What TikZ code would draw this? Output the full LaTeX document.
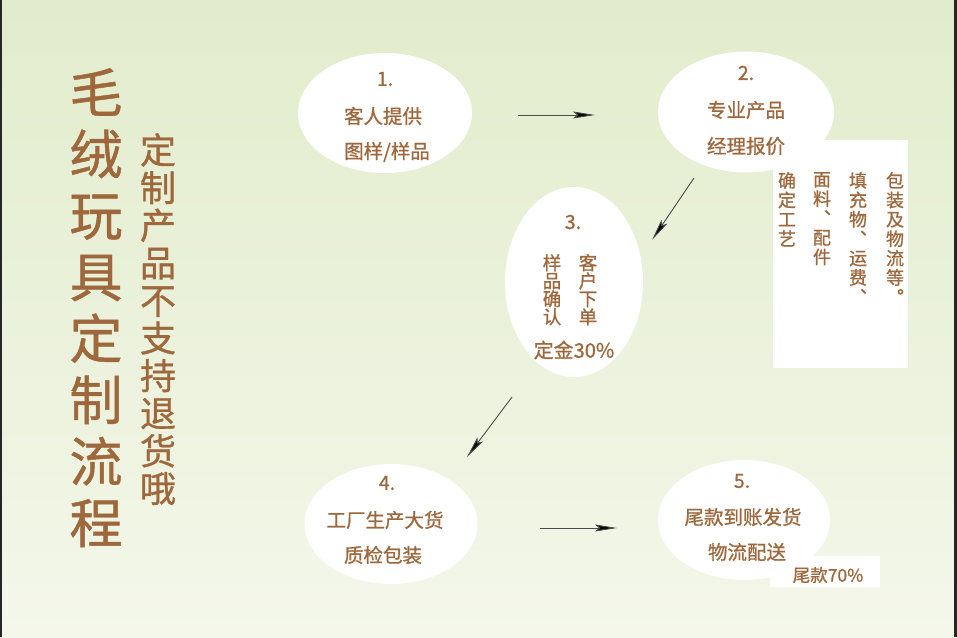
\documentclass[tikz,border=0pt]{standalone}
\usepackage{fontspec}
\newfontfamily\cjk{Noto Sans CJK SC}[FakeBold=0.9]
\usepackage{xcolor}
\usetikzlibrary{shapes.geometric, arrows.meta, positioning}

\definecolor{toybrown}{RGB}{158,104,60}
\definecolor{bgtop}{RGB}{226,236,204}
\definecolor{bgbottom}{RGB}{244,247,234}

\tikzset{
  stepoval/.style={ellipse, fill=white, draw=none, inner sep=0pt},
  steptext/.style={text=toybrown, inner sep=0pt, font=\cjk\fontsize{19.5}{19.5}\selectfont},
  columntext/.style={text=toybrown, inner sep=0pt, align=center, anchor=north,
    font=\cjk\fontsize{18}{19.4}\selectfont},
  flow/.style={draw=black!70, line width=0.9pt, -{Stealth[length=22pt, width=7pt, inset=4pt, fill=black]}}
}

\begin{document}
\begin{tikzpicture}[x=1pt, y=-1pt]
  % Background and frame
  \useasboundingbox (0,0) rectangle (957,637);
  \shade[top color=bgtop, bottom color=bgbottom] (0,0) rectangle (957,637);
  \fill[black!85] (0,0) rectangle (2,637);
  \fill[black!85] (954,0) rectangle (957,637);

  % Title
  \node[text=toybrown, inner sep=0pt, align=center, anchor=north,
    font=\cjk\fontsize{53}{61.5}\selectfont] (title) at (96,68)
    {毛\\绒\\玩\\具\\定\\制\\流\\程};
  \node[text=toybrown, inner sep=0pt, align=center, anchor=north,
    font=\cjk\fontsize{36}{37.6}\selectfont] (notice) at (158,133)
    {定\\制\\产\\品\\不\\支\\持\\退\\货\\哦};

  % Steps
  \node[stepoval, minimum width=174pt, minimum height=120pt] (s1) at (385,113) {};
  \node[stepoval, minimum width=176pt, minimum height=121pt] (s2) at (746,112) {};
  \node[stepoval, minimum width=138pt, minimum height=190pt] (s3) at (574,282) {};
  \node[stepoval, minimum width=173pt, minimum height=120pt] (s4) at (391,524) {};
  \node[stepoval, minimum width=172pt, minimum height=120pt] (s5) at (744,520) {};

  % Side notes
  \node[fill=white, inner sep=0pt, minimum width=135pt, minimum height=228pt,
    anchor=north west] (note2) at (773,140) {};
  \node[fill=white, inner sep=0pt, minimum width=110pt, minimum height=31pt,
    anchor=north west] (note5) at (770,556) {};

  % Step 1
  \node[steptext] (n1) at (385,79) {1.};
  \node[steptext] (t1a) at (383,116) {客人提供};
  \node[steptext] (t1b) at (387,152) {图样/样品};

  % Step 2
  \node[steptext] (n2) at (746,73) {2.};
  \node[steptext] (t2a) at (746,110) {专业产品};
  \node[steptext] (t2b) at (746,146) {经理报价};
  \node[columntext] (c2a) at (895,172) {包\\装\\及\\物\\流\\等\\︒};
  \node[columntext] (c2b) at (858,172) {填\\充\\物\\︑\\运\\费\\︑};
  \node[columntext] (c2c) at (822,172) {面\\料\\︑\\配\\件};
  \node[columntext] (c2d) at (787,172) {确\\定\\工\\艺};

  % Step 3
  \node[steptext] (n3) at (573,222) {3.};
  \node[columntext, font=\cjk\fontsize{18.5}{18}\selectfont] (c3a) at (552,254) {样\\品\\确\\认};
  \node[columntext, font=\cjk\fontsize{18.5}{18}\selectfont] (c3b) at (588,254) {客\\户\\下\\单};
  \node[steptext, font=\cjk\fontsize{20}{20}\selectfont] (t3) at (574,350) {定金30\%};

  % Step 4
  \node[steptext] (n4) at (387,483) {4.};
  \node[steptext] (t4a) at (385,520) {工厂生产大货};
  \node[steptext] (t4b) at (383,555) {质检包装};

  % Step 5
  \node[steptext] (n5) at (742,481) {5.};
  \node[steptext] (t5a) at (743,517) {尾款到账发货};
  \node[steptext] (t5b) at (747,552) {物流配送};
  \node[steptext, font=\cjk\fontsize{17.5}{17.5}\selectfont] (t5c) at (828,575) {尾款70\%};

  % Arrows
  \coordinate (a1s) at (518,115);
  \coordinate (a1e) at (595,115);
  \coordinate (a2s) at (694,178);
  \coordinate (a2e) at (652,240);
  \coordinate (a3s) at (512,397);
  \coordinate (a3e) at (467,457);
  \coordinate (a4s) at (540,528);
  \coordinate (a4e) at (617,528);
  \draw[flow] (a1s) -- (a1e);
  \draw[flow] (a2s) -- (a2e);
  \draw[flow] (a3s) -- (a3e);
  \draw[flow] (a4s) -- (a4e);
\end{tikzpicture}
\end{document}
